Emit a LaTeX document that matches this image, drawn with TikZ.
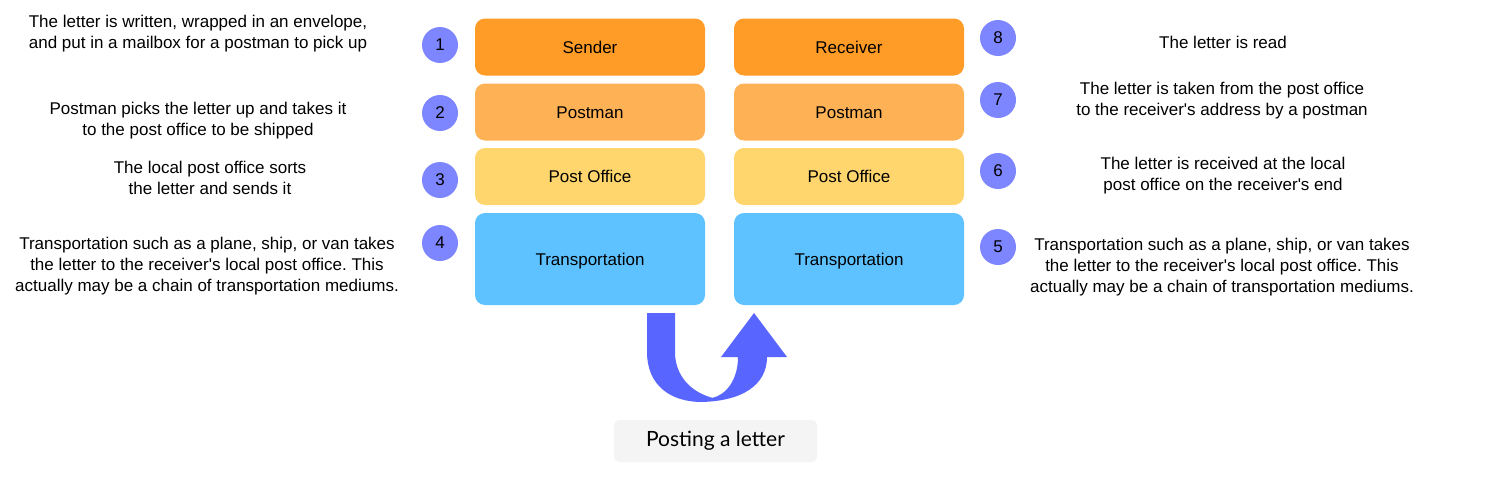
\documentclass[tikz,border=0pt]{standalone}
\usepackage{fontspec}
\setmainfont{Liberation Sans}[Ligatures=TeXOff]
\newfontfamily\captionfont{Lato}
\usepackage{tikz}
\usetikzlibrary{calc}
\frenchspacing

\definecolor{senderorange}{HTML}{FF9C27}
\definecolor{postmanorange}{HTML}{FFB156}
\definecolor{officeyellow}{HTML}{FFD66E}
\definecolor{transportblue}{HTML}{5DC2FF}
\definecolor{numberblue}{HTML}{7D86FF}
\definecolor{arrowblue}{HTML}{5865FF}
\definecolor{captiongray}{HTML}{F4F4F4}

\begin{document}
\begin{tikzpicture}[x=1pt, y=-1pt]
        \tikzset{
            stage/.style={rounded corners=10pt, minimum width=230pt,
            minimum height=57pt, inner sep=0pt, text height=12pt,
            text depth=0pt, font=\fontsize{17}{20}\selectfont},
            badge/.style={circle, fill=numberblue, minimum size=36pt,
            inner sep=0pt, font=\fontsize{17}{20}\selectfont},
            desc/.style={align=center, inner sep=0pt,
            font=\fontsize{17}{20.8}\selectfont},
        }

        \useasboundingbox (0, 0) rectangle (1506, 479);

        % Sending side
        \node[stage, fill=senderorange] (S1) at (590, 47) {Sender};
        \node[stage, fill=postmanorange] (S2) at (590, 112) {Postman};
        \node[stage, fill=officeyellow] (S3) at (590, 176.5) {Post Office};
        \node[stage, fill=transportblue, minimum height=92pt] (S4)
            at (590, 259) {Transportation};

        % Receiving side
        \node[stage, fill=senderorange] (R1) at (849, 47) {Receiver};
        \node[stage, fill=postmanorange] (R2) at (849, 112) {Postman};
        \node[stage, fill=officeyellow] (R3) at (849, 176.5) {Post Office};
        \node[stage, fill=transportblue, minimum height=92pt] (R4)
            at (849, 259) {Transportation};

        % Step numbers
        \node[badge] (N1) at (440, 45) {1};
        \node[badge] (N2) at (440, 113) {2};
        \node[badge] (N3) at (440, 180) {3};
        \node[badge] (N4) at (440, 243) {4};
        \node[badge] (N5) at (998, 247) {5};
        \node[badge] (N6) at (998, 171) {6};
        \node[badge] (N7) at (998, 100) {7};
        \node[badge] (N8) at (998, 38) {8};

        % Descriptions
        \node[desc] (D1) at (198, 34) {The letter is written, wrapped in an envelope,\\
            and put in a mailbox for a postman to pick up};
        \node[desc] (D2) at (198, 121) {Postman picks the letter up and takes it\\
            to the post office to be shipped};
        \node[desc] (D3) at (210, 178) {The local post office sorts\\
            the letter and sends it};
        \node[desc] (D4) at (207, 266) {Transportation such as a plane, ship, or van takes\\
            the letter to the receiver's local post office. This\\
            actually may be a chain of transportation mediums.};
        \node[desc] (D5) at (1222, 267) {Transportation such as a plane, ship, or van takes\\
            the letter to the receiver's local post office. This\\
            actually may be a chain of transportation mediums.};
        \node[desc] (D6) at (1223, 175.5) {The letter is received at the local\\
            post office on the receiver's end};
        \node[desc] (D7) at (1222, 101) {The letter is taken from the post office\\
            to the receiver's address by a postman};
        \node[desc] (D8) at (1223, 42) {The letter is read};

        % U-turn arrow
        \fill[arrowblue] (647, 313) -- (647, 352)
            .. controls (647, 385) and (670, 402) .. (702, 402)
            -- (713, 398)
            .. controls (690, 392) and (675, 375) .. (675, 352)
            -- (675, 313) -- cycle;
        \fill[arrowblue] (698, 402)
            .. controls (742, 402) and (767, 385) .. (767, 357)
            -- (787, 357) -- (754, 313) -- (721, 357) -- (738, 357)
            .. controls (738, 380) and (726, 395) .. (712, 398)
            -- cycle;

        % Caption
        \node[fill=captiongray, rounded corners=5pt, minimum width=203pt,
            minimum height=42pt, inner sep=0pt,
            font=\captionfont\fontsize{21}{25}\selectfont] (CAP)
            at (715.5, 441) {Posting a letter};

\end{tikzpicture}
\end{document}
